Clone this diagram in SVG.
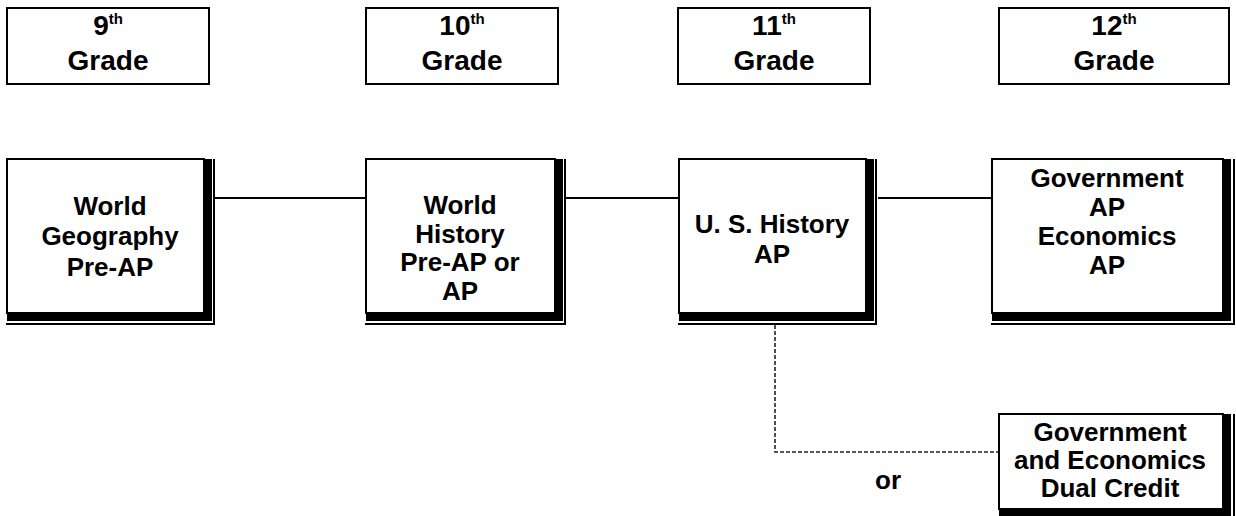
<svg xmlns="http://www.w3.org/2000/svg" width="1236" height="516" viewBox="0 0 1236 516">
<style>
  text { font-family: "Liberation Sans", Arial, sans-serif; font-weight: bold; fill: #000; text-anchor: middle; }
  .g { font-size: 28px; }
  .sup { font-size: 15px; }
  .t { font-size: 26px; }
  .frame { fill: #fff; stroke: #000; stroke-width: 2; }
  .shadow { fill: #000; }
  .thin { stroke: #000; stroke-width: 2; fill: none; }
  .conn { stroke: #000; stroke-width: 2; fill: none; }
  .dash { stroke: #222; stroke-width: 1.6; fill: none; stroke-dasharray: 4 2; }
</style>
<rect width="1236" height="516" fill="#fff"/>

<g id="connectors">
  <line class="conn" x1="215" y1="198" x2="365" y2="198"/>
  <line class="conn" x1="565" y1="198" x2="678" y2="198"/>
  <line class="conn" x1="878" y1="198" x2="991" y2="198"/>
  <polyline class="dash" points="775,325 775,452 998,452"/>
</g>

<g id="grade9">
  <rect class="frame" x="7" y="8" width="202" height="76"/>
  <text class="g" x="108" y="35">9<tspan class="sup" dy="-11">th</tspan></text>
  <text class="g" x="108" y="70">Grade</text>
</g>
<g id="grade10">
  <rect class="frame" x="366" y="8" width="192" height="76"/>
  <text class="g" x="462" y="35">10<tspan class="sup" dy="-11">th</tspan></text>
  <text class="g" x="462" y="70">Grade</text>
</g>
<g id="grade11">
  <rect class="frame" x="678" y="8" width="192" height="76"/>
  <text class="g" x="774" y="35">11<tspan class="sup" dy="-11">th</tspan></text>
  <text class="g" x="774" y="70">Grade</text>
</g>
<g id="grade12">
  <rect class="frame" x="999" y="8" width="230" height="76"/>
  <text class="g" x="1114" y="35">12<tspan class="sup" dy="-11">th</tspan></text>
  <text class="g" x="1114" y="70">Grade</text>
</g>

<g id="geography">
  <rect class="frame" x="7" y="159" width="197" height="154"/>
  <path class="shadow" d="M204,159 H212 V321 H7 V313 H204 Z"/>
  <path class="thin" d="M214,159 V324 H6"/>
  <text class="t" x="110" y="215">World</text>
  <text class="t" x="110" y="245">Geography</text>
  <text class="t" x="110" y="276">Pre-AP</text>
</g>

<g id="worldhistory">
  <rect class="frame" x="366" y="159" width="189" height="154"/>
  <path class="shadow" d="M555,159 H563 V321 H366 V313 H555 Z"/>
  <path class="thin" d="M565,159 V324 H365"/>
  <text class="t" x="460" y="214">World</text>
  <text class="t" x="460" y="243">History</text>
  <text class="t" x="460" y="271">Pre-AP or</text>
  <text class="t" x="460" y="300">AP</text>
</g>

<g id="ushistory">
  <rect class="frame" x="679" y="159" width="187" height="154"/>
  <path class="shadow" d="M866,159 H874 V321 H679 V313 H866 Z"/>
  <path class="thin" d="M876,159 V324 H678"/>
  <text class="t" x="772" y="233">U. S. History</text>
  <text class="t" x="772" y="263">AP</text>
</g>

<g id="govap">
  <rect class="frame" x="992" y="159" width="231" height="154"/>
  <path class="shadow" d="M1223,159 H1231 V321 H992 V313 H1223 Z"/>
  <path class="thin" d="M1234,159 V324 H991"/>
  <text class="t" x="1107" y="187">Government</text>
  <text class="t" x="1107" y="216">AP</text>
  <text class="t" x="1107" y="245">Economics</text>
  <text class="t" x="1107" y="274">AP</text>
</g>

<g id="dualcredit">
  <rect class="frame" x="999" y="414" width="224" height="95"/>
  <path class="shadow" d="M1223,414 H1231 V517 H999 V509 H1223 Z"/>
  <path class="thin" d="M1234,414 V517"/>
  <text class="t" x="1110" y="441">Government</text>
  <text class="t" x="1110" y="469">and Economics</text>
  <text class="t" x="1110" y="497">Dual Credit</text>
</g>

<g id="or-label">
  <text class="t" x="888" y="489">or</text>
</g>
</svg>
